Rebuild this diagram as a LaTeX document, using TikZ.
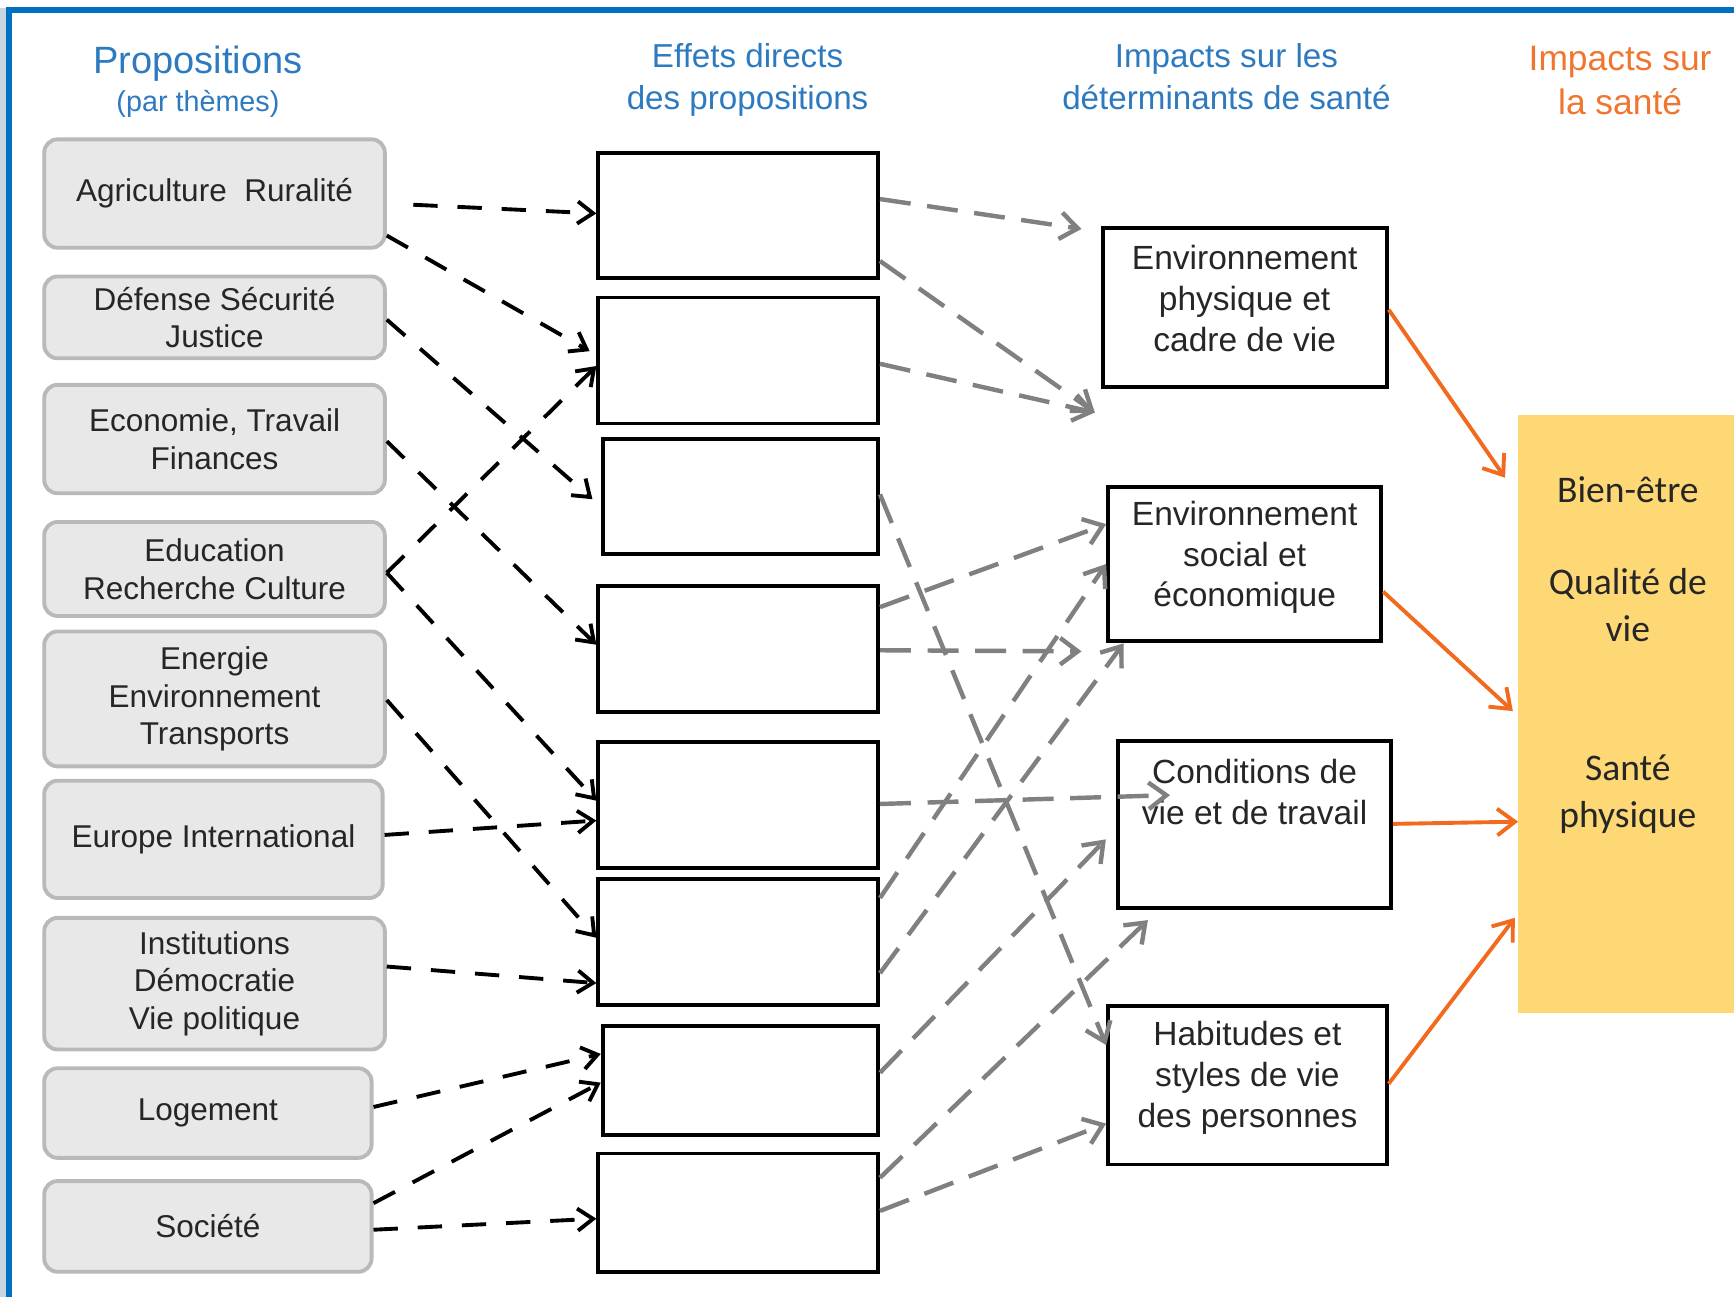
\documentclass[tikz,border=0pt]{standalone}
\usepackage{fontspec}
\setmainfont{Liberation Sans}
\newfontfamily\calibrifont{Carlito}
\usetikzlibrary{arrows.meta}
\definecolor{titleblue}{RGB}{46,122,192}
\definecolor{titleorange}{RGB}{240,118,48}
\definecolor{arroworange}{RGB}{242,106,30}
\definecolor{santeyellow}{RGB}{253,216,117}
\definecolor{propgray}{RGB}{232,232,232}
\definecolor{frameblue}{RGB}{0,112,192}
\definecolor{stripgray}{RGB}{200,214,224}
\definecolor{edgegray}{RGB}{128,128,128}

\begin{document}
\begin{tikzpicture}[x=1pt, y=-1pt,
               title_style/.style={align=center,inner sep=0pt,text=titleblue,font=\fontsize{30}{38}\selectfont},
               prop_style/.style={rectangle,rounded corners=12pt,draw=gray!55,line width=3.5pt,fill=propgray,align=center,inner sep=0pt,text=black!85,font=\fontsize{28.5}{34}\selectfont},
               effet_style/.style={rectangle,draw=black,line width=3.5pt,fill=white,inner sep=0pt},
               det_style/.style={rectangle,draw=black,line width=3.5pt,fill=white,inner sep=0pt},
               det_text/.style={align=center,inner sep=0pt,text=black!85,font=\fontsize{30.3}{37}\selectfont},
               sante_style/.style={rectangle,fill=santeyellow,inner sep=0pt},
               prop_edge/.style={draw=black,line width=3.5pt,dash pattern=on 22pt off 18pt,-{Straight Barb[length=14pt,width=20pt]}},
               effet_edge/.style={draw=edgegray,line width=4pt,dash pattern=on 28pt off 15pt,-{Straight Barb[length=16pt,width=24pt]}},
               sante_edge/.style={draw=arroworange,line width=3.5pt,-{Straight Barb[length=16pt,width=24pt]}}]
                \useasboundingbox (0,0) rectangle (1568,1173);
                % frame
                \fill[stripgray] (0,7) rectangle (5.2,1173);
                \draw[frameblue,line width=5.4pt] (7.8,1173) -- (7.8,9.3) -- (1568,9.3);

                % column titles
                \node[title_style,font=\fontsize{34.4}{35}\selectfont] (h1) at (179,74) {Propositions\\{\fontsize{26}{30}\selectfont(par thèmes)}};
                \node[title_style] (h2) at (676,72.5) {Effets directs\\des propositions};
                \node[title_style] (h3) at (1109,69) {Impacts sur les\\déterminants de santé};
                \node[title_style,text=titleorange,font=\fontsize{32}{40}\selectfont] (h4) at (1465,73) {Impacts sur\\la santé};

                % propositions
                \node[prop_style,minimum width=308pt,minimum height=98pt] (p1) at (194,175) {Agriculture\ \ Ruralité};
                \node[prop_style,minimum width=308pt,minimum height=74pt] (p2) at (194,287) {Défense Sécurité\\Justice};
                \node[prop_style,minimum width=308pt,minimum height=98pt] (p3) at (194,397) {Economie, Travail\\Finances};
                \node[prop_style,minimum width=308pt,minimum height=85pt] (p4) at (194,514.5) {Education\\Recherche Culture};
                \node[prop_style,minimum width=308pt,minimum height=122pt] (p5) at (194,632) {Energie\\Environnement\\Transports};
                \node[prop_style,minimum width=306pt,minimum height=106pt] (p6) at (193,759) {Europe International};
                \node[prop_style,minimum width=308pt,minimum height=119pt] (p7) at (194,889.5) {Institutions\\Démocratie\\Vie politique};
                \node[prop_style,minimum width=296pt,minimum height=81pt] (p8) at (188,1006.5) {Logement};
                \node[prop_style,minimum width=296pt,minimum height=82pt] (p9) at (188,1109) {Société};

                % effets directs
                \node[effet_style,minimum width=253pt,minimum height=113pt] (e1) at (667.5,194.5) {};
                \node[effet_style,minimum width=253pt,minimum height=114pt] (e2) at (667.5,326) {};
                \node[effet_style,minimum width=249pt,minimum height=104pt] (e3) at (669.5,449) {};
                \node[effet_style,minimum width=253pt,minimum height=114pt] (e4) at (667.5,587) {};
                \node[effet_style,minimum width=253pt,minimum height=114pt] (e5) at (667.5,728) {};
                \node[effet_style,minimum width=253pt,minimum height=114pt] (e6) at (667.5,852) {};
                \node[effet_style,minimum width=249pt,minimum height=98pt] (e7) at (669.5,977) {};
                \node[effet_style,minimum width=253pt,minimum height=107pt] (e8) at (667.5,1096.5) {};

                % determinants
                \node[det_style,minimum width=257pt,minimum height=144pt] (d1) at (1125.5,278) {};
                \node[det_text] (d1t) at (1125.5,270) {Environnement\\physique et\\cadre de vie};
                \node[det_style,minimum width=247pt,minimum height=140pt] (d2) at (1125.5,510) {};
                \node[det_text] (d2t) at (1125.5,504) {Environnement\\social et\\économique};
                \node[det_style,minimum width=247pt,minimum height=151pt] (d3) at (1134.5,745.5) {};
                \node[det_text] (d3t) at (1134.5,716) {Conditions de\\vie et de travail};
                \node[det_style,minimum width=252pt,minimum height=143pt] (d4) at (1128,981.5) {};
                \node[det_text] (d4t) at (1128,975) {Habitudes et\\styles de vie\\des personnes};

                % sante
                \node[sante_style,minimum width=195pt,minimum height=541pt] (s) at (1470.5,645.5) {};
                \node[align=center,inner sep=0pt,text=black!85,font=\calibrifont\fontsize{34}{42}\selectfont] (st) at (1472,592) {Bien-être\\[42pt]Qualité de\\vie\\[84pt]Santé\\physique};

                \coordinate (f1) at (978,207);
                \coordinate (f2) at (990,373);
                \coordinate (f3) at (978,589);
                \coordinate (f4) at (1058,719);
                \coordinate (f5) at (1000,759);
                \coordinate (f6) at (1038,832);
                \coordinate (t1) at (1361,432);
                \coordinate (t2) at (1368,643);

                \draw[prop_edge,shorten <=24pt] (p1.east |- 0,184) -- (e1.west |- 0,193);
                \draw[prop_edge,shorten >=7pt] (p1.east |- 0,213) -- (e2.west |- 0,321);
                \draw[prop_edge,shorten >=10pt] (p2.east |- 0,289) -- (e3.west |- 0,458);
                \draw[prop_edge] (p3.east |- 0,399) -- (e4.west |- 0,583);
                \draw[prop_edge] (p4.east |- 0,518) -- (e2.west |- 0,331);
                \draw[prop_edge] (p4.east |- 0,518) -- (e5.west |- 0,724);
                \draw[prop_edge] (p5.east |- 0,633) -- (e6.west |- 0,848);
                \draw[prop_edge] (p6.east |- 0,755) -- (e5.west |- 0,742);
                \draw[prop_edge] (p7.east |- 0,874) -- (e6.west |- 0,889);
                \draw[prop_edge] (p8.east |- 0,1001) -- (e7.west |- 0,953);
                \draw[prop_edge] (p9.east |- 0,1088) -- (e7.west |- 0,979);
                \draw[prop_edge] (p9.east |- 0,1112) -- (e8.west |- 0,1102);

                \draw[effet_edge] (e1.east |- 0,180) -- (f1);
                \draw[effet_edge] (e1.east |- 0,236) -- (f2);
                \draw[effet_edge] (e2.east |- 0,329) -- (f2);
                \draw[effet_edge] (e3.east |- 0,447) -- (d4.west |- 0,945);
                \draw[effet_edge] (e4.east |- 0,549) -- (d2.west |- 0,474);
                \draw[effet_edge] (e4.east |- 0,588) -- (f3);
                \draw[effet_edge] (e5.east |- 0,727) -- (f4);
                \draw[effet_edge] (e6.east |- 0,812) -- (d2.west |- 0,510);
                \draw[effet_edge] (e6.east |- 0,880) -- (d2.south -| 1016,0);
                \draw[effet_edge] (e7.east |- 0,970) -- (f5);
                \draw[effet_edge] (e8.east |- 0,1065) -- (f6);
                \draw[effet_edge] (e8.east |- 0,1095) -- (d4.west |- 0,1016);

                \draw[sante_edge] (d1.east |- 0,280) -- (t1);
                \draw[sante_edge] (d2.east |- 0,535) -- (t2);
                \draw[sante_edge] (d3.east |- 0,745) -- (s.west |- 0,743);
                \draw[sante_edge,shorten >=5pt] (d4.east |- 0,980) -- (s.west |- 0,826);
            \end{tikzpicture}
\end{document}
